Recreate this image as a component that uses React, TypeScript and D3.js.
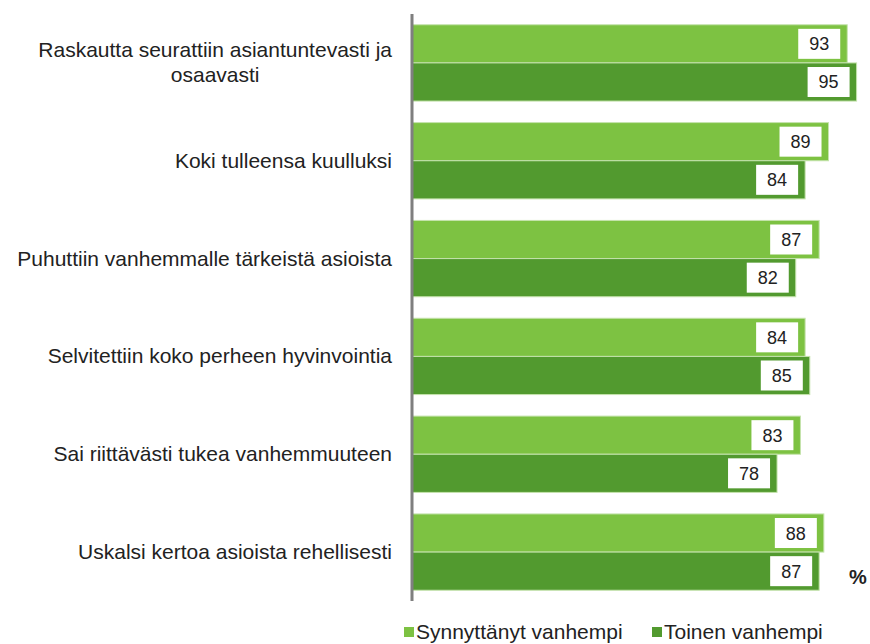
import { useEffect, useRef } from "react";
import * as d3 from "d3";

const categories = [
  ["Raskautta seurattiin asiantuntevasti ja", "osaavasti"],
  ["Koki tulleensa kuulluksi"],
  ["Puhuttiin vanhemmalle tärkeistä asioista"],
  ["Selvitettiin koko perheen hyvinvointia"],
  ["Sai riittävästi tukea vanhemmuuteen"],
  ["Uskalsi kertoa asioista rehellisesti"],
];
const seriesNames = ["Synnyttänyt vanhempi", "Toinen vanhempi"];
const synnyttanyt = [93, 89, 87, 84, 83, 88];
const toinen = [95, 84, 82, 85, 78, 87];
const colors = ["#7dc242", "#529a2f"];

const App = () => {
  const svgRef = useRef<SVGSVGElement>(null);

  useEffect(() => {
    const svg = d3.select(svgRef.current);
    svg.selectAll("*").remove();
    const font = "Liberation Sans, Arial, sans-serif";

    const x = d3.scaleLinear().domain([0, 100]).range([412, 880]);
    const y = d3.scaleBand<number>().domain(d3.range(categories.length)).range([14, 601]).paddingInner(0.22).paddingOuter(0.11);
    const sub = d3.scaleBand<number>().domain([0, 1]).range([0, y.bandwidth()]);
    const series = [synnyttanyt, toinen];

    series.forEach((vals, s) => {
      const g = svg.append("g");
      vals.forEach((v, i) => {
        const y0 = (y(i) as number) + (sub(s) as number);
        const h = sub.bandwidth();
        g.append("rect").attr("x", x(0)).attr("y", y0).attr("width", x(v) - x(0)).attr("height", h)
          .attr("fill", colors[s]).attr("stroke", "#c5e3ad").attr("stroke-width", 1);
        g.append("rect").attr("x", x(v) - 49).attr("y", y0 + h / 2 - 15).attr("width", 42).attr("height", 30).attr("fill", "#fff");
        g.append("text").attr("x", x(v) - 28).attr("y", y0 + h / 2 + 6.5).attr("text-anchor", "middle")
          .attr("font-family", font).attr("font-size", 18).attr("fill", "#222").text(v);
      });
    });

    svg.append("line").attr("x1", x(0)).attr("x2", x(0)).attr("y1", 14).attr("y2", 601)
      .attr("stroke", "#7f7f7f").attr("stroke-width", 3);

    categories.forEach((lines, i) => {
      const cy = (y(i) as number) + y.bandwidth() / 2;
      const t = svg.append("text").attr("font-family", font).attr("font-size", 21).attr("fill", "#222");
      const spans = lines.map((l, k) => t.append("tspan").attr("y", cy + 7 + (k - (lines.length - 1) / 2) * 25).text(l));
      const widths = spans.map((sp) => (sp.node() as SVGTSpanElement).getComputedTextLength());
      const maxW = d3.max(widths) as number;
      const center = 392 - maxW / 2;
      spans.forEach((sp) => sp.attr("x", center).attr("text-anchor", "middle"));
    });

    svg.append("text").attr("x", 849).attr("y", 584).attr("font-family", font).attr("font-size", 20)
      .attr("font-weight", "bold").attr("fill", "#222").text("%");

    const lx = [404, 652];
    seriesNames.forEach((n, s) => {
      svg.append("rect").attr("x", lx[s]).attr("y", 627).attr("width", 10).attr("height", 10).attr("fill", colors[s]);
      svg.append("text").attr("x", lx[s] + 12).attr("y", 639).attr("font-family", font).attr("font-size", 21)
        .attr("fill", "#222").text(n);
    });
  }, []);

  return <svg ref={svgRef} width={870} height={644} style={{ position: "absolute", left: 0, top: 0, background: "#fff" }}></svg>;
};

export default App;
